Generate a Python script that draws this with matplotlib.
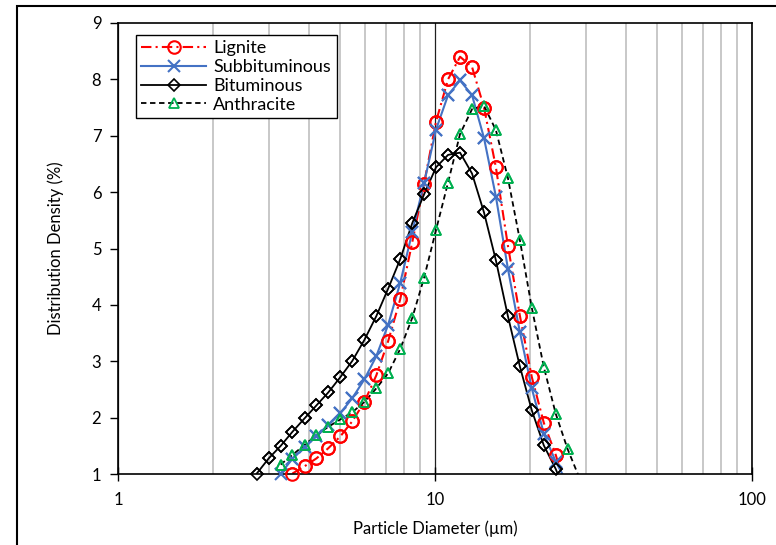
import matplotlib.pyplot as plt
from matplotlib.patches import Rectangle
from matplotlib.ticker import FixedLocator, FuncFormatter

plt.rcParams['font.family'] = ['Lato', 'DejaVu Sans']

# particle diameters (um), shared by all series
diam = [2.74, 2.99, 3.26, 3.55, 3.88, 4.23, 4.61, 5.03, 5.49, 5.99,
        6.53, 7.12, 7.77, 8.48, 9.24, 10.08, 11.0, 12.0, 13.09, 14.28,
        15.57, 16.99, 18.53, 20.21, 22.05, 24.05, 26.23, 28.62]

# distribution density (%)
bituminous = [1.01, 1.28, 1.50, 1.75, 1.99, 2.22, 2.45, 2.72, 3.01, 3.38,
              3.80, 4.29, 4.81, 5.45, 5.96, 6.44, 6.66, 6.70, 6.33, 5.64,
              4.79, 3.80, 2.91, 2.13, 1.51, 1.09, 0.55]
lignite = [1.01, 1.14, 1.28, 1.46, 1.67, 1.94, 2.28, 2.75, 3.36, 4.10,
           5.11, 6.15, 7.25, 8.00, 8.40, 8.22, 7.50, 6.44, 5.05, 3.81,
           2.72, 1.91, 1.34, 0.64]
subbituminous = [1.01, 1.27, 1.48, 1.67, 1.87, 2.08, 2.35, 2.68, 3.09, 3.65,
                 4.39, 5.29, 6.16, 7.11, 7.72, 7.98, 7.72, 6.96, 5.92, 4.64,
                 3.52, 2.52, 1.72, 1.22, 0.83]
anthracite = [1.17, 1.34, 1.52, 1.69, 1.84, 1.97, 2.10, 2.28, 2.52, 2.79,
              3.22, 3.77, 4.48, 5.33, 6.17, 7.03, 7.47, 7.53, 7.10, 6.25,
              5.15, 3.95, 2.90, 2.07, 1.44, 0.92]

series = [
    ('Lignite', lignite, 3, dict(color='red', ls=(0, (5, 2, 1, 2)), lw=1.5,
                                 marker='o', ms=9, mfc='none', mec='red', mew=1.5)),
    ('Subbituminous', subbituminous, 2, dict(color='#4472C4', ls='-', lw=1.5,
                                             marker='x', ms=9, mew=1.5)),
    ('Bituminous', bituminous, 0, dict(color='black', ls='-', lw=1.3,
                                       marker='D', ms=6.5, mfc='none', mec='black', mew=1.2)),
    ('Anthracite', anthracite, 2, dict(color='black', ls=(0, (3, 2)), lw=1.3,
                                       marker='^', ms=7, mfc='none', mec='#00B050', mew=1.3)),
]

fig = plt.figure(figsize=(7.76, 5.45), dpi=100)
ax = fig.add_axes([0.152, 0.130, 0.817, 0.828])

for name, vals, start, style in series:
    xs = diam[start:start + len(vals)]
    ax.plot(xs, vals, label=name, markevery=[i for i, v in enumerate(vals) if v >= 1], **style)
    # markers sitting on the bottom axis are drawn whole, not clipped
    mk = dict(style)
    mk['ls'] = 'none'
    ax.plot([x for x, v in zip(xs, vals) if v >= 1], [v for v in vals if v >= 1],
            clip_on=False, zorder=3, **mk)

ax.set_xscale('log')
ax.set_xlim(1, 100)
ax.set_ylim(1, 9)
ax.xaxis.set_major_locator(FixedLocator([1, 10, 100]))
ax.xaxis.set_major_formatter(FuncFormatter(lambda v, p: '%g' % v))
ax.xaxis.set_minor_locator(FixedLocator([2, 3, 4, 5, 6, 7, 8, 9, 20, 30, 40, 50, 60, 70, 80, 90]))
ax.xaxis.set_minor_formatter(FuncFormatter(lambda v, p: ''))
ax.set_yticks(range(1, 10))

ax.grid(True, axis='x', which='minor', color='#BFBFBF', lw=1.2)
ax.grid(True, axis='x', which='major', color='#202020', lw=0.9)
ax.set_axisbelow(True)
ax.tick_params(axis='x', which='major', direction='inout', length=10, width=1, labelsize=12, pad=8)
ax.tick_params(axis='x', which='minor', length=0)
ax.tick_params(axis='y', direction='out', length=6, width=1, labelsize=12, pad=6)
for s in ax.spines.values():
    s.set_linewidth(1.2)
    s.set_color('black')

ax.set_xlabel('Particle Diameter (µm)', fontsize=12, labelpad=9)
ax.set_ylabel('Distribution Density (%)', fontsize=12, labelpad=20)

leg = ax.legend(loc='upper left', bbox_to_anchor=(0.028, 0.973), borderaxespad=0, fontsize=13,
                fancybox=False, edgecolor='black', framealpha=1,
                borderpad=0.3, labelspacing=0.15, handlelength=3.6, handletextpad=0.4)
leg.get_frame().set_linewidth(1.0)

fig.add_artist(Rectangle((0.022, -0.05), 1.1, 1.039, transform=fig.transFigure,
                         fill=False, ec='black', lw=1.5))

fig.savefig('out.png', dpi=100)
